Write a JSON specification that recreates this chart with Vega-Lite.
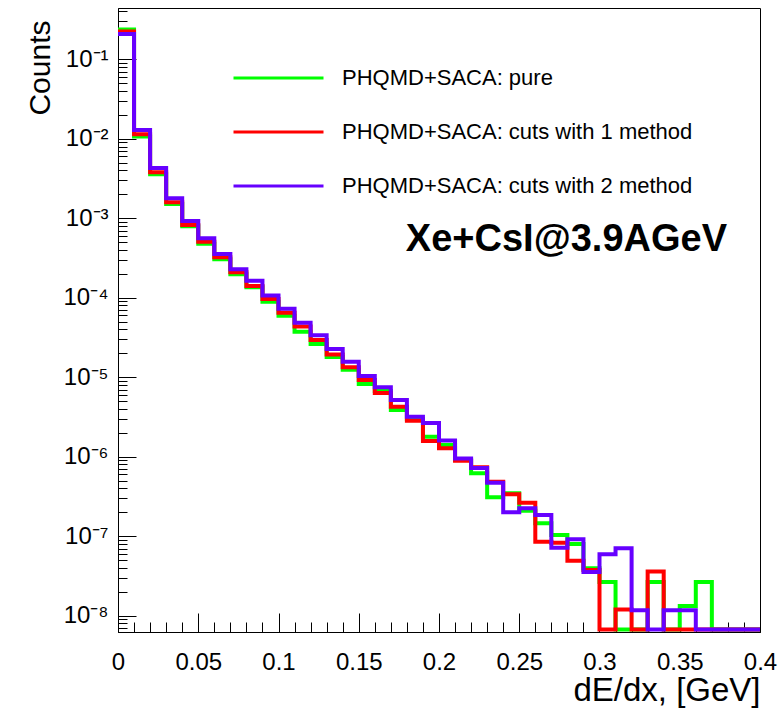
{
  "$schema": "https://vega.github.io/schema/vega-lite/v6.json",
  "width": 642,
  "height": 624,
  "autosize": {"type": "none"},
  "padding": {"left": 118, "top": 8, "right": 22, "bottom": 76},
  "background": "white",
  "config": {
    "view": {"stroke": "black", "strokeWidth": 1},
    "font": "Liberation Sans"
  },
  "title": {
    "text": "Xe+CsI@3.9AGeV",
    "orient": "top",
    "anchor": "end",
    "frame": "group",
    "offset": 0,
    "baseline": "alphabetic",
    "dy": 281,
    "dx": -33,
    "fontSize": 38,
    "fontWeight": "bold",
    "color": "black",
    "font": "Liberation Sans"
  },
  "data": {
    "values": [
      {"x": 0.00, "g": 0.237, "r": 0.224, "p": 0.208},
      {"x": 0.01, "g": 0.0107, "r": 0.0114, "p": 0.0129},
      {"x": 0.02, "g": 0.00357, "r": 0.00379, "p": 0.0043},
      {"x": 0.03, "g": 0.00151, "r": 0.00159, "p": 0.00179},
      {"x": 0.04, "g": 7.93e-4, "r": 8.24e-4, "p": 9.25e-4},
      {"x": 0.05, "g": 4.8e-4, "r": 5.08e-4, "p": 5.6e-4},
      {"x": 0.06, "g": 3.05e-4, "r": 3.23e-4, "p": 3.56e-4},
      {"x": 0.07, "g": 1.98e-4, "r": 2.09e-4, "p": 2.28e-4},
      {"x": 0.08, "g": 1.36e-4, "r": 1.41e-4, "p": 1.64e-4},
      {"x": 0.09, "g": 8.93e-5, "r": 9.66e-5, "p": 1.07e-4},
      {"x": 0.10, "g": 5.96e-5, "r": 6.5e-5, "p": 7.3e-5},
      {"x": 0.11, "g": 3.75e-5, "r": 4.34e-5, "p": 4.86e-5},
      {"x": 0.12, "g": 2.62e-5, "r": 2.94e-5, "p": 3.37e-5},
      {"x": 0.13, "g": 1.8e-5, "r": 1.94e-5, "p": 2.27e-5},
      {"x": 0.14, "g": 1.24e-5, "r": 1.34e-5, "p": 1.57e-5},
      {"x": 0.15, "g": 8.24e-6, "r": 9.25e-6, "p": 1.04e-5},
      {"x": 0.16, "g": 6.73e-6, "r": 6.35e-6, "p": 7.49e-6},
      {"x": 0.17, "g": 3.88e-6, "r": 4.27e-6, "p": 5.18e-6},
      {"x": 0.18, "g": 2.99e-6, "r": 2.84e-6, "p": 3.19e-6},
      {"x": 0.19, "g": 1.79e-6, "r": 1.58e-6, "p": 2.66e-6},
      {"x": 0.20, "g": 1.41e-6, "r": 1.28e-6, "p": 1.6e-6},
      {"x": 0.21, "g": 9.12e-7, "r": 8.93e-7, "p": 9.52e-7},
      {"x": 0.22, "g": 6.19e-7, "r": 7.38e-7, "p": 7.23e-7},
      {"x": 0.23, "g": 3.1e-7, "r": 4.86e-7, "p": 4.72e-7},
      {"x": 0.24, "g": 3.48e-7, "r": 3.38e-7, "p": 2.0e-7},
      {"x": 0.25, "g": 2.1e-7, "r": 2.65e-7, "p": 2.25e-7},
      {"x": 0.26, "g": 1.46e-7, "r": 8.55e-8, "p": 1.85e-7},
      {"x": 0.27, "g": 1.04e-7, "r": 8.3e-8, "p": 7.19e-8},
      {"x": 0.28, "g": 8.0e-8, "r": 4.93e-8, "p": 9.17e-8},
      {"x": 0.29, "g": 3.95e-8, "r": 3.77e-8, "p": 3.56e-8},
      {"x": 0.30, "g": 2.66e-8, "r": 6.7e-9, "p": 5.94e-8},
      {"x": 0.31, "g": 6.7e-9, "r": 1.2e-8, "p": 7.06e-8},
      {"x": 0.32, "g": 6.7e-9, "r": 6.7e-9, "p": 1.17e-8},
      {"x": 0.33, "g": 2.66e-8, "r": 3.6e-8, "p": 6.7e-9},
      {"x": 0.34, "g": 6.7e-9, "r": 6.7e-9, "p": 1.17e-8},
      {"x": 0.35, "g": 1.33e-8, "r": 6.7e-9, "p": 1.17e-8},
      {"x": 0.36, "g": 2.66e-8, "r": 6.7e-9, "p": 6.7e-9},
      {"x": 0.37, "g": 6.7e-9, "r": 6.7e-9, "p": 6.7e-9},
      {"x": 0.38, "g": 6.7e-9, "r": 6.7e-9, "p": 6.7e-9},
      {"x": 0.39, "g": 6.7e-9, "r": 6.7e-9, "p": 6.7e-9},
      {"x": 0.40, "g": 6.7e-9, "r": 6.7e-9, "p": 6.7e-9}
    ]
  },
  "transform": [{"fold": ["g", "r", "p"], "as": ["s", "v"]}],
  "layer": [
    {
      "mark": {"type": "line", "interpolate": "step-after", "opacity": 0},
      "encoding": {
        "x": {
          "field": "x", "type": "quantitative",
          "scale": {"domain": [0, 0.4], "nice": false, "zero": false},
          "axis": {
            "orient": "bottom", "title": null, "labels": false, "domain": false, "grid": false,
            "values": [0.01,0.02,0.03,0.04,0.06,0.07,0.08,0.09,0.11,0.12,0.13,0.14,0.16,0.17,0.18,0.19,0.21,0.22,0.23,0.24,0.26,0.27,0.28,0.29,0.31,0.32,0.33,0.34,0.36,0.37,0.38,0.39],
            "tickSize": -10, "tickColor": "black", "tickWidth": 1
          }
        },
        "y": {
          "field": "v", "type": "quantitative",
          "scale": {"type": "log", "domain": [6.25e-9, 0.442], "nice": false},
          "axis": {
            "orient": "left", "title": null, "labels": false, "domain": false, "grid": false,
            "values": [7e-9,8e-9,9e-9,2e-8,3e-8,4e-8,5e-8,6e-8,7e-8,8e-8,9e-8,2e-7,3e-7,4e-7,5e-7,6e-7,7e-7,8e-7,9e-7,2e-6,3e-6,4e-6,5e-6,6e-6,7e-6,8e-6,9e-6,2e-5,3e-5,4e-5,5e-5,6e-5,7e-5,8e-5,9e-5,2e-4,3e-4,4e-4,5e-4,6e-4,7e-4,8e-4,9e-4,0.002,0.003,0.004,0.005,0.006,0.007,0.008,0.009,0.02,0.03,0.04,0.05,0.06,0.07,0.08,0.09,0.2,0.3,0.4],
            "tickSize": -9, "tickColor": "black", "tickWidth": 1
          }
        },
        "detail": {"field": "s"}
      }
    },
    {
      "mark": {"type": "line", "interpolate": "step-after", "strokeWidth": 4},
      "encoding": {
        "x": {
          "field": "x", "type": "quantitative",
          "scale": {"domain": [0, 0.4], "nice": false, "zero": false},
          "axis": {
            "orient": "bottom", "grid": false,
            "values": [0, 0.05, 0.1, 0.15, 0.2, 0.25, 0.3, 0.35, 0.4],
            "format": "~g",
            "tickSize": -19, "tickColor": "black", "tickWidth": 1,
            "domainColor": "black", "domainWidth": 1,
            "labelPadding": 37, "labelFontSize": 24, "labelColor": "black", "labelFlush": false, "labelOverlap": false, "labelBound": false,
            "labelFont": "Liberation Sans",
            "title": "dE/dx, [GeV]", "titleFont": "Liberation Sans", "titleFontSize": 33, "titleFontWeight": "normal", "titleColor": "black",
            "titleX": 642, "titleY": 68, "titleAlign": "right", "titleBaseline": "alphabetic", "titleAnchor": null
          }
        },
        "y": {
          "field": "v", "type": "quantitative",
          "scale": {"type": "log", "domain": [6.25e-9, 0.442], "nice": false},
          "axis": {
            "orient": "left", "grid": false,
            "values": [1e-8, 1e-7, 1e-6, 1e-5, 1e-4, 0.001, 0.01, 0.1],
            "labelExpr": "'10⁻' + ['⁰','¹','²','³','⁴','⁵','⁶','⁷','⁸','⁹'][-round(log(datum.value)/LN10)]",
            "tickSize": -18, "tickColor": "black", "tickWidth": 1,
            "domainColor": "black", "domainWidth": 1,
            "labelPadding": 28, "labelFontSize": 24, "labelColor": "black", "labelFlush": false, "labelOverlap": false, "labelBound": false,
            "labelFont": "Liberation Sans",
            "title": "Counts", "titleFont": "Liberation Sans", "titleFontSize": 30, "titleFontWeight": "normal", "titleColor": "black",
            "titleAngle": 270, "titleX": -69, "titleY": 12, "titleAlign": "right", "titleBaseline": "alphabetic", "titleAnchor": null
          }
        },
        "color": {
          "field": "s", "type": "nominal",
          "scale": {"domain": ["g", "r", "p"], "range": ["#00ff00", "#ff0000", "#6600ff"]},
          "legend": {
            "orient": "none", "legendX": 114, "legendY": 55, "title": null, "padding": 0,
            "symbolType": "stroke", "symbolSize": 8100, "symbolStrokeWidth": 3, "symbolOffset": 0,
            "clipHeight": 30, "rowPadding": 24,
            "labelFontSize": 22, "labelOffset": 17, "labelColor": "black", "labelFont": "Liberation Sans", "labelLimit": 0,
            "labelExpr": "datum.value == 'g' ? 'PHQMD+SACA: pure' : datum.value == 'r' ? 'PHQMD+SACA: cuts with 1 method' : 'PHQMD+SACA: cuts with 2 method'"
          }
        }
      }
    }
  ],
  "resolve": {"axis": {"x": "independent", "y": "independent"}}
}
